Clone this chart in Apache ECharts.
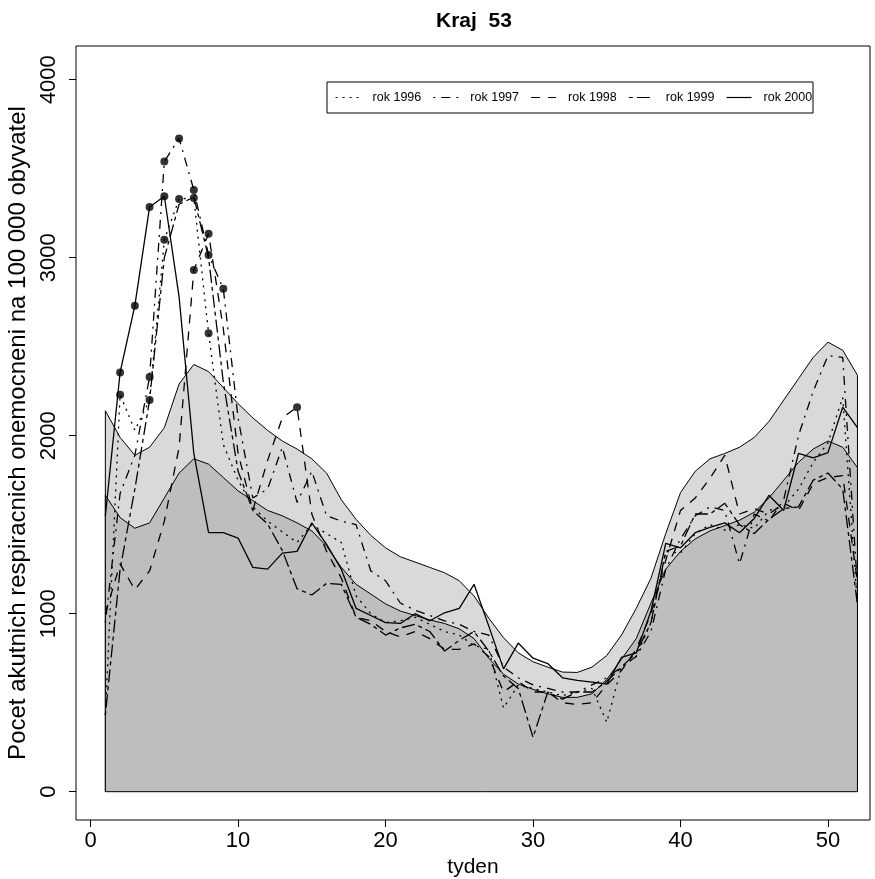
<!DOCTYPE html>
<html><head><meta charset="utf-8">
<script src="https://cdn.jsdelivr.net/npm/echarts@6/dist/echarts.min.js"></script>
<style>html,body{margin:0;padding:0;background:#fff}#c{width:875px;height:879px}</style>
</head><body><div id="c"></div>
<script>
const weeks = [1,2,3,4,5,6,7,8,9,10,11,12,13,14,15,16,17,18,19,20,21,22,23,24,25,26,27,28,29,30,31,32,33,34,35,36,37,38,39,40,41,42,43,44,45,46,47,48,49,50,51,52];
const upper = [2140,1990,1890,1935,2045,2290,2400,2360,2270,2180,2100,2030,1970,1925,1870,1790,1640,1530,1440,1370,1320,1290,1260,1230,1185,1100,975,865,780,730,700,672,670,700,765,880,1030,1200,1450,1680,1800,1870,1900,1935,1990,2080,2200,2320,2440,2525,2480,2340];
const lower = [1665,1540,1480,1510,1650,1790,1870,1840,1765,1690,1635,1580,1550,1510,1465,1380,1260,1165,1110,1055,1015,990,965,945,915,860,750,660,605,575,550,530,530,550,630,745,860,1060,1250,1350,1420,1465,1495,1525,1570,1650,1750,1850,1925,1970,1935,1820];
const y1996 = [430,2230,2030,2200,3100,3330,3335,2575,1950,1750,1600,1520,1460,1400,1500,1450,1400,1100,1000,950,960,980,940,900,880,820,800,470,600,580,560,540,560,580,390,700,760,950,1350,1340,1450,1500,1470,1500,1480,1580,1600,1700,1850,1960,2215,1050];
const y1997 = [950,1675,1890,2330,3540,3670,3380,3015,2825,2100,1650,1700,1935,1625,1800,1550,1520,1500,1240,1185,1060,1020,990,960,940,900,880,700,640,600,580,560,560,600,640,700,760,900,1250,1420,1550,1600,1580,1280,1560,1520,1640,2000,2250,2450,2440,1150];
const y1998 = [1000,1280,1135,1240,1520,1935,2930,3135,2600,1900,1580,1860,2100,2160,1560,1350,1200,980,960,900,870,900,860,800,800,830,760,560,620,560,560,500,490,500,600,680,800,1000,1300,1580,1650,1760,1890,1560,1590,1560,1620,1580,1730,1765,1775,1180];
const y1999 = [430,1250,1700,2200,3000,3300,3340,3000,2300,1800,1580,1505,1355,1140,1105,1170,1165,980,940,880,920,940,900,790,850,900,790,650,580,305,560,520,560,560,620,700,780,950,1350,1380,1560,1560,1620,1500,1450,1530,1590,1600,1750,1790,1700,1050];
const y2000 = [1550,2355,2730,3285,3345,2780,1900,1455,1455,1425,1260,1250,1340,1350,1510,1390,1250,1030,990,950,945,1000,960,1005,1030,1165,930,690,835,750,720,640,625,615,605,755,780,1015,1395,1370,1455,1485,1510,1455,1535,1665,1580,1900,1875,1905,2160,2045];
const dots1996 = [2,4,5,6,7,8];
const dots1997 = [4,5,6,7,8,9];
const dots1998 = [7,8,14];
const dots1999 = [];
const dots2000 = [2,3,4,5];
const yearNames = ['rok 1996','rok 1997','rok 1998','rok 1999','rok 2000'];
const xTicks = [0,10,20,30,40,50];
const yTicks = [0,1000,2000,3000,4000];

const FONT = 'Liberation Sans, Arial, Helvetica, sans-serif';
const yearVals = [y1996,y1997,y1998,y1999,y2000];
const yearDots = [dots1996,dots1997,dots1998,dots1999,dots2000];
const dashes = [[2,5],[2,6,9,6],[9,8],[4,4,13,4],'solid'];

function poly(vals){
  const d = [[weeks[0],0]];
  weeks.forEach((w,i)=>d.push([w,vals[i]]));
  d.push([weeks[weeks.length-1],0]);
  return d;
}
const series = [];
series.push({type:'line',data:poly(upper),symbol:'none',silent:true,
  lineStyle:{color:'#000',width:1},areaStyle:{color:'#d9d9d9',opacity:1},z:1});
series.push({type:'line',data:poly(lower),symbol:'none',silent:true,
  lineStyle:{color:'#000',width:1},areaStyle:{color:'#bebebe',opacity:1},z:2});
series.push({type:'line',data:[[weeks[0],0],[weeks[weeks.length-1],0]],symbol:'none',silent:true,
  lineStyle:{color:'#000',width:1},z:2});
yearVals.forEach((vals,k)=>{
  series.push({name:yearNames[k],type:'line',symbol:'none',
    data:weeks.map((w,i)=>[w,vals[i]]),
    lineStyle:{color:'#000',width:1.3,type:dashes[k]},itemStyle:{color:'#000'},z:3});
});
const dotData = [];
yearDots.forEach((ws,k)=>ws.forEach(w=>dotData.push([w,yearVals[k][w-1]])));
series.push({type:'scatter',data:dotData,symbol:'circle',symbolSize:8,itemStyle:{color:'#000'},z:4});

const chart = echarts.init(document.getElementById('c'),null,{renderer:'canvas'});
chart.setOption({
  animation:false,
  backgroundColor:'#fff',
  title:{text:'Kraj  53',left:436,top:11,padding:0,
    textStyle:{fontFamily:FONT,fontSize:21,fontWeight:'bold',color:'#000'}},
  legend:{data:yearNames,left:335,top:91,padding:0,itemWidth:25,itemHeight:13,itemGap:11.5,z:10,
    itemStyle:{opacity:0},lineStyle:{width:1.2},
    textStyle:{fontFamily:FONT,fontSize:12.5,color:'#000',padding:[0,0,0,7]}},
  graphic:[{type:'rect',z:5,shape:{x:327,y:82,width:486,height:31},style:{fill:'#fff',stroke:'#000',lineWidth:1}}],
  grid:{left:76,top:46,width:794,height:774,show:true,borderColor:'#000',borderWidth:1,backgroundColor:'transparent',outerBoundsMode:'none'},
  xAxis:{type:'value',min:-0.99,max:52.85,position:'bottom',
    name:'tyden',nameLocation:'middle',nameGap:37,
    nameTextStyle:{fontFamily:FONT,fontSize:21,color:'#000'},
    axisLine:{show:false,onZero:false},splitLine:{show:false},
    axisTick:{show:true,customValues:xTicks,length:7,lineStyle:{color:'#000',width:1}},
    axisLabel:{customValues:xTicks,margin:10,fontFamily:FONT,fontSize:22,color:'#000',formatter:v=>String(v)}},
  yAxis:{type:'value',min:-159,max:4189,position:'left',
    name:'Pocet akutnich respiracnich onemocneni na 100 000 obyvatel',nameLocation:'middle',nameGap:44,nameRotate:90,
    nameTextStyle:{fontFamily:FONT,fontSize:24,color:'#000'},
    axisLine:{show:false,onZero:false},splitLine:{show:false},
    axisTick:{show:true,customValues:yTicks,length:7,lineStyle:{color:'#000',width:1}},
    axisLabel:{customValues:yTicks,rotate:90,margin:16,fontFamily:FONT,fontSize:22,color:'#000',formatter:v=>String(v)}},
  series:series
});
</script></body></html>
